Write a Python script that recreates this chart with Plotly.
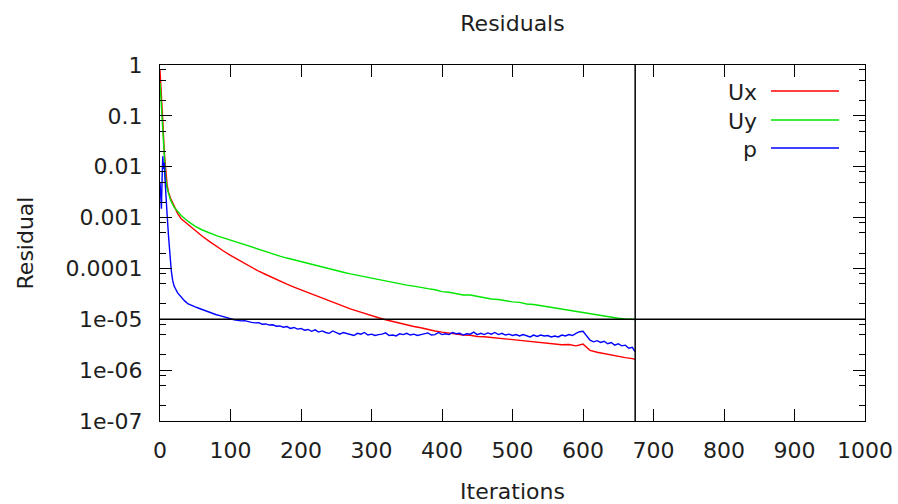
import plotly.graph_objects as go

# ---------------- data ----------------
series_names = ["Ux", "Uy", "p"]
series_colors = ["#ff0000", "#00e600", "#0000ff"]

it_u = [0, 2, 4, 6, 8, 10, 12, 15, 20, 25] + list(range(30, 680, 10)) + [674]

ux = [0.8, 0.3, 0.08, 0.02, 0.008, 0.0045, 0.0032, 0.0024, 0.0017, 0.0012,
      9.5e-4, 7.2e-4, 5.5e-4, 4.3e-4, 3.4e-4, 2.7e-4, 2.2e-4, 1.8e-4, 1.5e-4, 1.25e-4,
      1.05e-4, 8.8e-5, 7.6e-5, 6.5e-5, 5.6e-5, 4.9e-5, 4.3e-5, 3.8e-5, 3.3e-5, 2.9e-5,
      2.55e-5, 2.25e-5, 2.0e-5, 1.8e-5, 1.6e-5, 1.45e-5, 1.3e-5, 1.18e-5, 1.07e-5, 9.8e-6,
      9.0e-6, 8.3e-6, 7.7e-6, 7.2e-6, 6.8e-6, 6.3e-6, 5.9e-6, 5.6e-6, 5.3e-6, 5.1e-6,
      4.9e-6, 4.85e-6, 4.6e-6, 4.55e-6, 4.4e-6, 4.35e-6, 4.15e-6, 4.0e-6, 3.9e-6, 3.85e-6,
      3.6e-6, 3.6e-6, 3.4e-6, 3.35e-6, 3.15e-6, 3.2e-6, 3.0e-6, 3.25e-6, 2.45e-6, 2.25e-6,
      2.1e-6, 1.97e-6, 1.86e-6, 1.76e-6, 1.68e-6,
      1.63e-6]

uy = [0.45, 0.15, 0.04, 0.013, 0.006, 0.0038, 0.0029, 0.0022, 0.0016, 0.0013,
      1.1e-3, 8.4e-4, 6.7e-4, 5.7e-4, 5.0e-4, 4.4e-4, 4.0e-4, 3.6e-4, 3.2e-4, 2.9e-4,
      2.6e-4, 2.35e-4, 2.1e-4, 1.9e-4, 1.75e-4, 1.6e-4, 1.47e-4, 1.35e-4, 1.25e-4, 1.15e-4,
      1.06e-4, 9.8e-5, 9.0e-5, 8.4e-5, 7.8e-5, 7.3e-5, 6.9e-5, 6.5e-5, 6.1e-5, 5.7e-5,
      5.3e-5, 5.0e-5, 4.7e-5, 4.5e-5, 4.2e-5, 4.0e-5, 3.8e-5, 3.5e-5, 3.4e-5, 3.2e-5,
      3.0e-5, 3.0e-5, 2.8e-5, 2.7e-5, 2.5e-5, 2.45e-5, 2.3e-5, 2.2e-5, 2.15e-5, 2.0e-5,
      1.95e-5, 1.85e-5, 1.75e-5, 1.68e-5, 1.58e-5, 1.5e-5, 1.42e-5, 1.33e-5, 1.27e-5, 1.2e-5,
      1.14e-5, 1.09e-5, 1.05e-5, 1.02e-5, 1.0e-5,
      0.99e-5]

it_p = ([0, 1, 2, 3, 4, 5, 6, 7, 8, 10, 12, 14, 16, 18, 20, 25, 30, 35, 40, 45,
         50, 55, 60, 65, 70, 75, 80, 85, 90, 95] + list(range(100, 675, 5)) + [674])

p = [0.005, 0.003, 0.0015, 0.006, 0.016, 0.009, 0.012, 0.006, 0.003, 0.0012,
     4.5e-4, 1.7e-4, 9e-5, 5.8e-5, 4.5e-5, 3.3e-5, 2.7e-5, 2.3e-5, 2.0e-5, 1.85e-5,
     1.75e-5, 1.65e-5, 1.55e-5, 1.46e-5, 1.38e-5, 1.3e-5, 1.23e-5, 1.18e-5, 1.12e-5, 1.06e-5,
     1.02e-5, 9.8e-6, 9.6e-6, 9.3e-6, 9.4e-6, 8.9e-6, 8.7e-6, 8.5e-6, 8.6e-6, 8.0e-6,
     8.1e-6, 7.7e-6, 7.8e-6, 7.3e-6, 7.4e-6, 7.0e-6, 7.2e-6, 6.6e-6, 6.9e-6, 6.4e-6,
     6.6e-6, 6.1e-6, 6.3e-6, 5.8e-6, 6.2e-6, 5.6e-6, 5.9e-6, 5.5e-6, 5.3e-6, 5.9e-6,
     5.4e-6, 5.1e-6, 5.5e-6, 5.2e-6, 5.0e-6, 4.8e-6, 5.3e-6, 5.1e-6, 5.5e-6, 4.9e-6,
     5.1e-6, 4.8e-6, 5.0e-6, 5.1e-6, 5.4e-6, 4.8e-6, 4.9e-6, 4.7e-6, 5.2e-6, 5.0e-6,
     5.3e-6, 4.9e-6, 5.1e-6, 4.8e-6, 5.0e-6, 5.2e-6, 5.4e-6, 4.9e-6, 5.0e-6, 5.5e-6,
     5.0e-6, 5.2e-6, 5.0e-6, 5.5e-6, 5.2e-6, 5.3e-6, 4.9e-6, 5.2e-6, 5.1e-6, 5.6e-6,
     5.0e-6, 5.3e-6, 5.0e-6, 5.4e-6, 5.1e-6, 5.5e-6, 5.0e-6, 5.3e-6, 4.9e-6, 5.1e-6,
     4.8e-6, 5.0e-6, 4.7e-6, 5.0e-6, 4.7e-6, 4.5e-6, 4.9e-6, 4.6e-6, 4.9e-6, 4.7e-6,
     4.8e-6, 4.5e-6, 4.7e-6, 4.5e-6, 4.9e-6, 4.7e-6, 5.0e-6, 4.8e-6, 5.3e-6, 5.7e-6,
     5.8e-6, 4.7e-6, 3.9e-6, 3.6e-6, 3.8e-6, 3.5e-6, 3.7e-6, 3.3e-6, 3.5e-6, 3.1e-6,
     3.3e-6, 3.0e-6, 3.1e-6, 2.7e-6, 2.8e-6,
     2.3e-6]

x_ticks = [0, 100, 200, 300, 400, 500, 600, 700, 800, 900, 1000]
y_ticks = [1, 0.1, 0.01, 0.001, 0.0001, 1e-5, 1e-6, 1e-7]
y_ticktext = ["1", "0.1", "0.01", "0.001", "0.0001", "1e-05", "1e-06", "1e-07"]
tolerance = 1e-5

# ---------------- figure ----------------
W, H = 898, 504
L, R, T, B = 160, 33, 65, 83
FONT = "DejaVu Sans, sans-serif"
FS = 22
TXT = "#1e1e1e"

fig = go.Figure()
xs_list = [it_u, it_u, it_p]
ys_list = [ux, uy, p]
for name, col, xs, ys in zip(series_names, series_colors, xs_list, ys_list):
    fig.add_trace(go.Scatter(x=xs, y=ys, mode="lines", name=name,
                             line=dict(color=col, width=1.4), showlegend=False))

last_iter = max(it_u)
# convergence markers: vertical line at last iteration, horizontal at tolerance
fig.add_shape(type="line", xref="x", yref="paper", x0=last_iter, x1=last_iter, y0=0, y1=1,
              line=dict(color="black", width=1.5))
fig.add_shape(type="line", xref="paper", yref="y", x0=0, x1=1, y0=tolerance, y1=tolerance,
              line=dict(color="black", width=1.5))

# gnuplot-style legend: text, then line sample
pw, ph = W - L - R, H - T - B
def px2paper_x(px):
    return (px - L) / pw
def px2paper_y(py):
    return (H - B - py) / ph
leg_rows = [91, 120, 148]
for name, col, yy in zip(series_names, series_colors, leg_rows):
    fig.add_shape(type="line", xref="paper", yref="paper",
                  x0=px2paper_x(771), x1=px2paper_x(839),
                  y0=px2paper_y(yy), y1=px2paper_y(yy),
                  line=dict(color=col, width=1.4))
    fig.add_annotation(xref="paper", yref="paper", x=px2paper_x(759), y=px2paper_y(yy + 1),
                       text=name, showarrow=False, xanchor="right", yanchor="middle",
                       font=dict(family=FONT, size=FS, color=TXT))

minor_vals = [m * 10.0 ** d for d in range(-7, 0) for m in (2, 5, 8)]

fig.update_layout(
    width=W, height=H,
    margin=dict(l=L, r=R, t=T, b=B, autoexpand=False),
    plot_bgcolor="white", paper_bgcolor="white",
    font=dict(family=FONT, size=FS, color=TXT),
    title=dict(text="Residuals", x=(L + pw / 2) / W, xanchor="center",
               y=1 - 23 / H, yanchor="middle", yref="container",
               font=dict(family=FONT, size=FS, color=TXT)),
    xaxis=dict(range=[0, 1000], tickvals=x_ticks, ticks="inside", ticklen=12,
               tickwidth=1.3, tickcolor="black", showline=True, linecolor="black",
               linewidth=1.3, mirror="ticks", showgrid=False, zeroline=False,
               ticklabelstandoff=9, automargin=False,
               title=dict(text="Iterations", standoff=28,
                          font=dict(family=FONT, size=FS, color=TXT))),
    yaxis=dict(type="log", range=[-7, 0], tickvals=y_ticks, ticktext=y_ticktext,
               ticks="inside", ticklen=12, tickwidth=1.3, tickcolor="black",
               showline=True, linecolor="black", linewidth=1.3, mirror="ticks",
               showgrid=False, zeroline=False, ticklabelstandoff=12, automargin=False,
               minor=dict(tickmode="array", tickvals=minor_vals, ticks="inside",
                          ticklen=6, tickwidth=1.3, tickcolor="black", showgrid=False),
               title=dict(text="Residual", standoff=25,
                          font=dict(family=FONT, size=FS, color=TXT))),
)

fig.write_html("out.html")
